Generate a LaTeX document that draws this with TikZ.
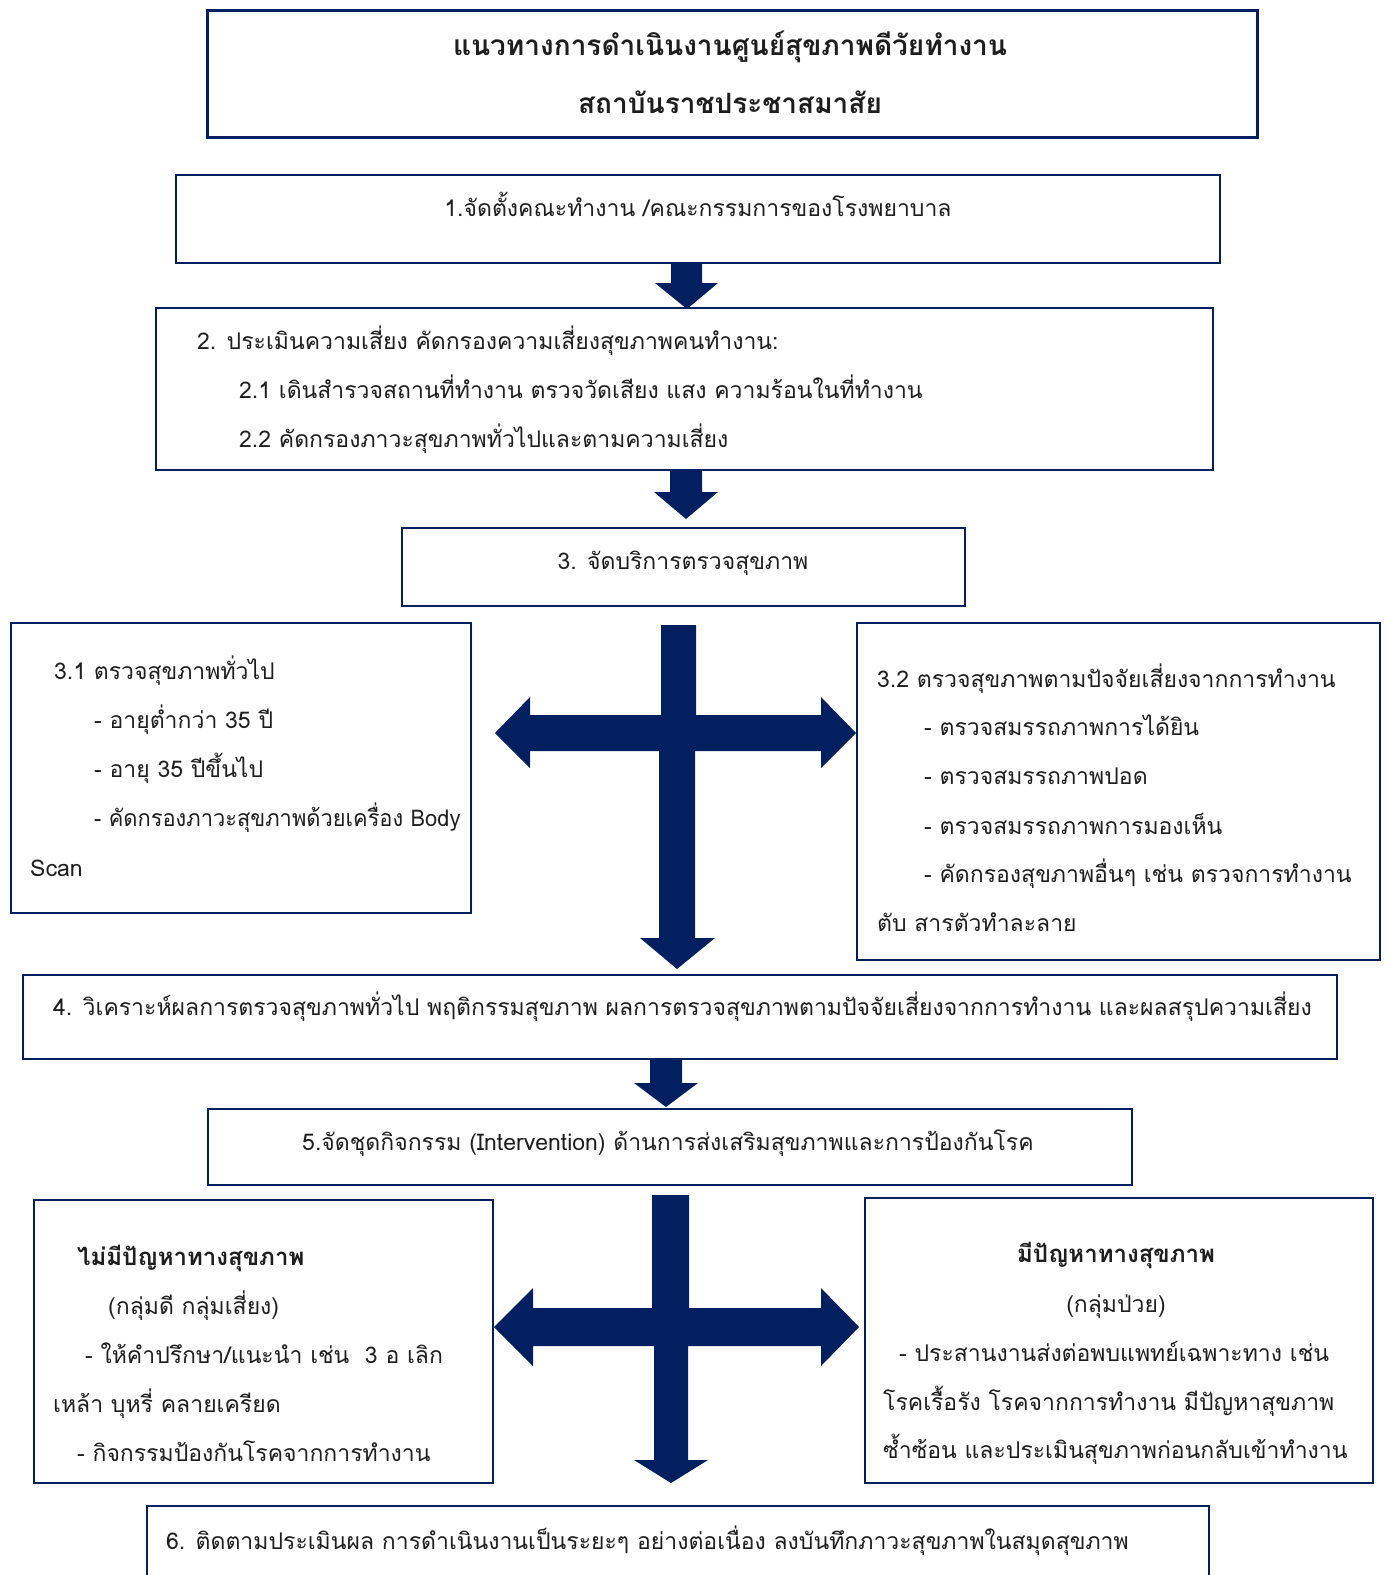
\documentclass[tikz,border=0pt]{standalone}
\usepackage{fontspec}
\newfontfamily\thaifont[Script=Thai]{Loma}
\definecolor{navy}{RGB}{2,32,96}
\definecolor{ink}{RGB}{30,30,30}

\begin{document}
\begin{tikzpicture}[x=1pt,y=-1pt,
  box/.style={draw=navy, line width=2pt, anchor=north west, inner sep=0pt},
  txt/.style={anchor=mid west, inner sep=0pt, yshift=-6pt, text=ink, font=\thaifont\fontsize{23}{27}\selectfont},
  ctxt/.style={txt, anchor=mid},
  btxt/.style={font=\thaifont\bfseries\fontsize{24}{28}\selectfont},
  ttl/.style={anchor=mid, inner sep=0pt, yshift=-5pt, text=ink, font=\thaifont\bfseries\fontsize{28}{32}\selectfont},
  blockarrow/.style={fill=navy, draw=none}]
\useasboundingbox (0,0) rectangle (1388,1575);

% boxes
\node[box, line width=3pt, minimum width=1050pt, minimum height=127pt] (title) at (206,9) {};
\node[box, minimum width=1044pt, minimum height=88pt] (b1) at (175,174) {};
\node[box, minimum width=1057pt, minimum height=162pt] (b2) at (155,307) {};
\node[box, minimum width=563pt, minimum height=78pt] (b3) at (401,527) {};
\node[box, minimum width=460pt, minimum height=290pt] (b31) at (10,622) {};
\node[box, minimum width=523pt, minimum height=337pt] (b32) at (856,622) {};
\node[box, minimum width=1314pt, minimum height=84pt] (b4) at (22,974) {};
\node[box, minimum width=924pt, minimum height=76pt] (b5) at (207,1108) {};
\node[box, minimum width=459pt, minimum height=283pt] (bl) at (33,1199) {};
\node[box, minimum width=508pt, minimum height=285pt] (br) at (864,1197) {};
\node[box, minimum width=1062pt, minimum height=100pt] (b6) at (146,1505) {};

% title
\node[ttl] (t1) at (730,48) {แนวทางการดำเนินงานศูนย์สุขภาพดีวัยทำงาน};
\node[ttl] (t2) at (730,106) {สถาบันราชประชาสมาสัย};

% step 1
\node[ctxt] (s1) at (698,208) {1.จัดตั้งคณะทำงาน /คณะกรรมการของโรงพยาบาล};

% step 2
\node[txt] (s2a) at (197,341) {2. ประเมินความเสี่ยง คัดกรองความเสี่ยงสุขภาพคนทำงาน:};
\node[txt] (s2b) at (239,390) {2.1 เดินสำรวจสถานที่ทำงาน ตรวจวัดเสียง แสง ความร้อนในที่ทำงาน};
\node[txt] (s2c) at (239,439) {2.2 คัดกรองภาวะสุขภาพทั่วไปและตามความเสี่ยง};

% step 3
\node[ctxt] (s3) at (683,561) {3. จัดบริการตรวจสุขภาพ};

% 3.1
\node[txt] (s31a) at (54,671) {3.1 ตรวจสุขภาพทั่วไป};
\node[txt] (s31b) at (94,720) {- อายุต่ำกว่า 35 ปี};
\node[txt] (s31c) at (94,769) {- อายุ 35 ปีขึ้นไป};
\node[txt] (s31d) at (94,818) {\scalebox{0.95}[1]{- คัดกรองภาวะสุขภาพด้วยเครื่อง Body}};
\node[txt] (s31e) at (30,868) {Scan};

% 3.2
\node[txt] (s32a) at (877,679) {3.2 ตรวจสุขภาพตามปัจจัยเสี่ยงจากการทำงาน};
\node[txt] (s32b) at (924,727) {- ตรวจสมรรถภาพการได้ยิน};
\node[txt] (s32c) at (924,776) {- ตรวจสมรรถภาพปอด};
\node[txt] (s32d) at (924,826) {- ตรวจสมรรถภาพการมองเห็น};
\node[txt] (s32e) at (924,874) {- คัดกรองสุขภาพอื่นๆ เช่น ตรวจการทำงาน};
\node[txt] (s32f) at (877,923) {ตับ สารตัวทำละลาย};

% step 4
\node[txt] (s4) at (53,1007) {4. วิเคราะห์ผลการตรวจสุขภาพทั่วไป พฤติกรรมสุขภาพ ผลการตรวจสุขภาพตามปัจจัยเสี่ยงจากการทำงาน และผลสรุปความเสี่ยง};

% step 5
\node[ctxt] (s5) at (668,1142) {5.จัดชุดกิจกรรม (Intervention) ด้านการส่งเสริมสุขภาพและการป้องกันโรค};

% no health problem
\node[txt, btxt] (l1) at (77,1257) {ไม่มีปัญหาทางสุขภาพ};
\node[txt] (l2) at (108,1306) {(กลุ่มดี กลุ่มเสี่ยง)};
\node[txt] (l3) at (85,1355) {- ให้คำปรึกษา/แนะนำ เช่น~~3 อ เลิก};
\node[txt] (l4) at (53,1404) {เหล้า บุหรี่ คลายเครียด};
\node[txt] (l5) at (77,1453) {- กิจกรรมป้องกันโรคจากการทำงาน};

% health problem
\node[ctxt, btxt] (r1) at (1116,1254) {มีปัญหาทางสุขภาพ};
\node[ctxt] (r2) at (1116,1304) {(กลุ่มป่วย)};
\node[txt] (r3) at (899,1353) {- ประสานงานส่งต่อพบแพทย์เฉพาะทาง เช่น};
\node[txt] (r4) at (883,1402) {โรคเรื้อรัง โรคจากการทำงาน มีปัญหาสุขภาพ};
\node[txt] (r5) at (883,1450) {ซ้ำซ้อน และประเมินสุขภาพก่อนกลับเข้าทำงาน};

% step 6
\node[txt] (s6) at (166,1541) {6. ติดตามประเมินผล การดำเนินงานเป็นระยะๆ อย่างต่อเนื่อง ลงบันทึกภาวะสุขภาพในสมุดสุขภาพ};

% block arrows between steps
\fill[blockarrow] (671,262) -- (702,262) -- (702,283) -- (718,283) -- (687,309)
  -- (655,283) -- (671,283) -- cycle;
\fill[blockarrow] (670,469) -- (702,469) -- (702,492) -- (718,492) -- (686,519)
  -- (654,492) -- (670,492) -- cycle;
\fill[blockarrow] (650,1058) -- (682,1058) -- (682,1083) -- (698,1083) -- (666,1107)
  -- (634,1083) -- (650,1083) -- cycle;

% three-way arrow after step 3
\fill[blockarrow] (661,625) -- (696,625) -- (696,715) -- (821,715) -- (821,697)
  -- (856,733) -- (821,768) -- (821,751) -- (695,751) -- (695,938) -- (715,938)
  -- (677,969) -- (640,938) -- (659,938) -- (659,751) -- (530,751) -- (530,768)
  -- (495,733) -- (530,697) -- (530,715) -- (661,715) -- cycle;

% three-way arrow after step 5
\fill[blockarrow] (652,1199) -- (652,1195) -- (689,1195) -- (689,1308) -- (821,1308) -- (821,1288)
  -- (859,1327) -- (821,1366) -- (821,1346) -- (688,1346) -- (688,1460) -- (708,1460)
  -- (671,1483) -- (634,1460) -- (654,1460) -- (654,1346) -- (533,1346) -- (533,1366)
  -- (494,1327) -- (533,1288) -- (533,1308) -- (652,1308) -- cycle;
\end{tikzpicture}
\end{document}
